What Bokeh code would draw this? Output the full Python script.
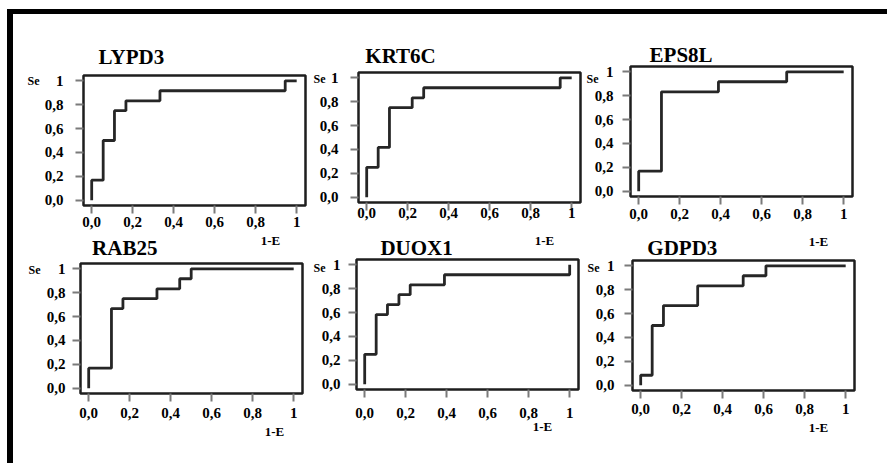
from bokeh.plotting import figure
from bokeh.models import Range1d, FixedTicker, LinearAxis, Spacer
from bokeh.embed import file_html
from bokeh.resources import INLINE

# ROC step vertices per marker: 1-E (false-positive rate) and Se (sensitivity)
lypd3_fpr = [0, 0, 0.056, 0.111, 0.167, 0.333, 0.944, 1]
lypd3_se = [0, 0.167, 0.5, 0.75, 0.833, 0.917, 1, 1]

krt6c_fpr = [0, 0, 0.056, 0.111, 0.222, 0.278, 0.944, 1]
krt6c_se = [0, 0.25, 0.417, 0.75, 0.833, 0.917, 1, 1]

eps8l_fpr = [0, 0, 0.111, 0.389, 0.722, 1]
eps8l_se = [0, 0.167, 0.833, 0.917, 1, 1]

rab25_fpr = [0, 0, 0.111, 0.167, 0.333, 0.444, 0.5, 1]
rab25_se = [0, 0.167, 0.667, 0.75, 0.833, 0.917, 1, 1]

duox1_fpr = [0, 0, 0.056, 0.111, 0.167, 0.222, 0.389, 1]
duox1_se = [0, 0.25, 0.583, 0.667, 0.75, 0.833, 0.917, 1]

gdpd3_fpr = [0, 0, 0.056, 0.111, 0.278, 0.5, 0.611, 1]
gdpd3_se = [0, 0.083, 0.5, 0.667, 0.833, 0.917, 1, 1]

tick_values = [0, 0.2, 0.4, 0.6, 0.8, 1]
tick_labels = ["0,0", "0,2", "0,4", "0,6", "0,8", "1"]

FONT = "Liberation Serif"
INK = "#1e1e1e"

FRAME_W, FRAME_H = 222, 130
B_LEFT, B_RIGHT, B_TOP, B_BOTTOM = 75, 20, 50, 60

# frame = top-left corner of the plotting box on the page;
# title/se/e = (position along the axis, standoff in px)
panels = [
    dict(name="LYPD3", fpr=lypd3_fpr, se=lypd3_se, frame=(83, 75),
         title=(0.193, 7), se_lab=(1.0, 2), e_lab=(0.872, 3), xs=3, ys=12),
    dict(name="KRT6C", fpr=krt6c_fpr, se=krt6c_se, frame=(358, 72),
         title=(0.165, 5), se_lab=(0.988, -9), e_lab=(0.867, 12), xs=-3, ys=12),
    dict(name="EPS8L", fpr=eps8l_fpr, se=eps8l_se, frame=(630, 66),
         title=(0.207, 0), se_lab=(0.937, -7), e_lab=(0.877, 12), xs=4, ys=9),
    dict(name="RAB25", fpr=rab25_fpr, se=rab25_se, frame=(80, 263),
         title=(0.176, 4), se_lab=(0.989, 3), e_lab=(0.906, 3), xs=6, ys=7),
    dict(name="DUOX1", fpr=duox1_fpr, se=duox1_se, frame=(356, 259),
         title=(0.253, 0), se_lab=(0.973, -7), e_lab=(0.867, -2), xs=10, ys=8),
    dict(name="GDPD3", fpr=gdpd3_fpr, se=gdpd3_se, frame=(632, 260),
         title=(0.203, 1), se_lab=(0.982, -7), e_lab=(0.867, 3), xs=5, ys=10),
]


def text_axis(p, side, pos, text, size, standoff):
    """A bare axis carrying a single bold label (panel title, 'Se', '1-E')."""
    ax = LinearAxis(ticker=FixedTicker(ticks=[pos]), major_label_overrides={pos: text})
    ax.axis_line_color = None
    ax.major_tick_line_color = None
    ax.minor_tick_line_color = None
    ax.major_tick_out = 0
    ax.major_tick_in = 0
    ax.major_label_text_font = FONT
    ax.major_label_text_font_style = "bold"
    ax.major_label_text_font_size = size
    ax.major_label_text_color = "black"
    ax.major_label_standoff = standoff
    p.add_layout(ax, side)


def roc_panel(cfg):
    fx, fy = cfg["frame"]
    p = figure(frame_width=FRAME_W, frame_height=FRAME_H,
               output_backend="svg", toolbar_location=None,
               x_range=Range1d(-0.04, 1.043), y_range=Range1d(-0.045, 1.045),
               min_border_left=B_LEFT, min_border_right=B_RIGHT,
               min_border_top=B_TOP, min_border_bottom=B_BOTTOM,
               styles={"position": "absolute",
                       "left": f"{fx - B_LEFT}px", "top": f"{fy - B_TOP}px"})
    p.background_fill_color = None
    p.border_fill_color = None
    p.outline_line_color = INK
    p.outline_line_width = 2.5
    p.xgrid.visible = False
    p.ygrid.visible = False

    for ax, standoff in ((p.xaxis[0], cfg["xs"]), (p.yaxis[0], cfg["ys"])):
        ax.ticker = FixedTicker(ticks=tick_values)
        ax.major_label_overrides = dict(zip(tick_values, tick_labels))
        ax.axis_line_color = None
        ax.major_tick_line_color = "#7a7a7a"
        ax.major_tick_line_width = 2
        ax.major_tick_out = 8
        ax.major_tick_in = 0
        ax.minor_tick_line_color = None
        ax.major_label_text_font = FONT
        ax.major_label_text_font_style = "bold"
        ax.major_label_text_font_size = "15px"
        ax.major_label_text_color = "black"
        ax.major_label_standoff = standoff

    p.step(cfg["fpr"], cfg["se"], mode="after", line_color="#262626", line_width=2.8)

    text_axis(p, "above", cfg["title"][0], cfg["name"], "21px", cfg["title"][1])
    text_axis(p, "left", cfg["se_lab"][0], "Se", "12px", cfg["se_lab"][1])
    text_axis(p, "below", cfg["e_lab"][0], "1-E", "13px", cfg["e_lab"][1])
    return p


roots = [roc_panel(c) for c in panels]

# heavy black rules along the top and left edge of the sheet
roots.append(Spacer(width=880, height=5, styles={
    "position": "absolute", "left": "7px", "top": "9px", "background-color": "black"}))
roots.append(Spacer(width=6, height=454, styles={
    "position": "absolute", "left": "7px", "top": "9px", "background-color": "black"}))

open("out.html", "w").write(file_html(roots, INLINE))
